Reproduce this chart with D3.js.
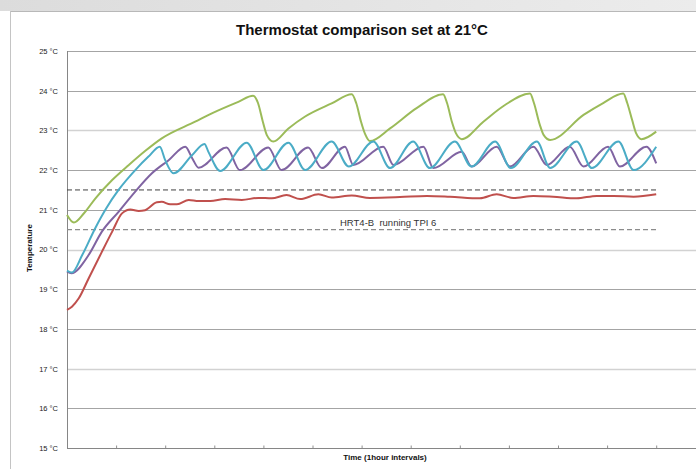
<!DOCTYPE html>
<html>
<head>
<meta charset="utf-8">
<script src="https://cdn.jsdelivr.net/npm/d3@7"></script>
<style>
  body { margin: 0; background: #fff; }
  svg { display: block; font-family: "Liberation Sans", Arial, sans-serif; }
</style>
</head>
<body>
<svg id="chart" width="696" height="469"></svg>
<script>
// readings: [hour, °C]
const redSeries = [
  [0, 18.48], [0.10, 18.56], [0.24, 18.77], [0.44, 19.27], [0.71, 19.94], [0.92, 20.45],
  [1.12, 20.91], [1.29, 21.01], [1.46, 20.97], [1.59, 20.99], [1.83, 21.19], [1.93, 21.20],
  [2.10, 21.14], [2.24, 21.14], [2.48, 21.25], [2.68, 21.22], [2.92, 21.22], [3.22, 21.27],
  [3.56, 21.25], [3.90, 21.30], [4.17, 21.29], [4.47, 21.37], [4.75, 21.27], [5.12, 21.39],
  [5.39, 21.31], [5.80, 21.36], [6.17, 21.30], [6.78, 21.32], [7.33, 21.35], [7.80, 21.33],
  [8.41, 21.29], [8.75, 21.39], [9.09, 21.30], [9.50, 21.35], [9.90, 21.33], [10.38, 21.29],
  [10.79, 21.35], [11.13, 21.35], [11.54, 21.33], [12, 21.39]
];
const greenSeries = [
  [0, 20.87], [0.14, 20.68], [0.35, 20.92], [0.58, 21.29], [0.92, 21.75], [1.26, 22.13],
  [1.59, 22.48], [1.93, 22.80], [2.61, 23.22], [2.95, 23.43], [3.49, 23.72], [3.79, 23.87],
  [3.89, 23.69], [3.99, 23.21], [4.07, 22.88], [4.20, 22.72], [4.51, 23.05], [4.85, 23.35],
  [5.39, 23.68], [5.80, 23.91], [5.89, 23.69], [5.99, 23.21], [6.07, 22.91], [6.17, 22.73],
  [6.58, 23.05], [7.12, 23.56], [7.66, 23.91], [7.74, 23.69], [7.84, 23.21], [7.92, 22.93],
  [8.04, 22.78], [8.48, 23.22], [8.92, 23.64], [9.43, 23.93], [9.51, 23.69], [9.63, 23.14],
  [9.71, 22.88], [9.84, 22.76], [10.52, 23.39], [10.92, 23.69], [11.33, 23.93], [11.41, 23.69],
  [11.51, 23.26], [11.59, 22.93], [11.70, 22.78], [12, 22.97]
];
const purpleSeries = [
  [0, 19.44], [0.09, 19.40], [0.44, 19.86], [0.71, 20.45], [1.05, 20.95], [1.39, 21.46],
  [1.73, 21.92], [2.07, 22.25], [2.41, 22.59], [2.55, 22.30], [2.68, 22.06], [3.25, 22.57],
  [3.52, 22.00], [4.10, 22.57], [4.37, 22.00], [4.91, 22.57], [5.19, 22.05], [5.66, 22.59],
  [5.83, 22.13], [6.44, 22.59], [6.65, 22.13], [7.26, 22.59], [7.46, 22.05], [8.04, 22.46],
  [8.24, 22.09], [8.75, 22.59], [9.02, 22.09], [9.50, 22.59], [9.77, 22.13], [10.24, 22.59],
  [10.52, 22.09], [11.02, 22.59], [11.26, 22.09], [11.80, 22.59], [12, 22.17]
];
const tealSeries = [
  [0, 19.47], [0.10, 19.42], [0.31, 19.86], [0.58, 20.55], [0.80, 21.04], [1.05, 21.50],
  [1.39, 22.00], [1.66, 22.34], [1.89, 22.59], [2.00, 22.25], [2.17, 21.92], [2.55, 22.38],
  [2.80, 22.66], [2.88, 22.46], [3.12, 21.98], [3.66, 22.69], [4.00, 22.00], [4.51, 22.69],
  [4.85, 22.00], [5.39, 22.72], [5.74, 22.09], [6.24, 22.72], [6.58, 22.05], [7.05, 22.72],
  [7.39, 22.05], [7.90, 22.72], [8.24, 22.09], [8.72, 22.72], [9.04, 22.05], [9.57, 22.72],
  [9.84, 22.05], [10.38, 22.72], [10.69, 22.05], [11.23, 22.72], [11.54, 22.00], [12, 22.59]
];
const upperBand = [[0, 21.5], [12, 21.5]];
const lowerBand = [[0, 20.5], [12, 20.5]];

const yTicks = [15, 16, 17, 18, 19, 20, 21, 22, 23, 24, 25];
const xTicks = [1, 2, 3, 4, 5, 6, 7, 8, 9, 10, 11, 12];
const chartTitle = 'Thermostat comparison set at 21°C';
const bandNote = 'HRT4-B  running TPI 6';

const svg = d3.select('#chart');

// window chrome around the chart
const grad = svg.append('defs').append('linearGradient').attr('id', 'topbar');
grad.append('stop').attr('offset', '0%').attr('stop-color', '#dcdcdc');
grad.append('stop').attr('offset', '100%').attr('stop-color', '#ececec');
svg.append('rect').attr('x', 0).attr('y', 0).attr('width', 696).attr('height', 11).attr('fill', 'url(#topbar)');
svg.append('line').attr('x1', 10).attr('x2', 696).attr('y1', 11.5).attr('y2', 11.5).attr('stroke', '#b8b8b8');
svg.append('line').attr('x1', 10.5).attr('x2', 10.5).attr('y1', 11).attr('y2', 469).attr('stroke', '#c4c4c4');

const x = d3.scaleLinear().domain([0, 12]).range([67, 656.2]);
const y = d3.scaleLinear().domain([15, 25]).range([448, 51]);

// gridlines (some come out lighter in the screenshot)
const lightGrid = [17, 20, 23];
svg.append('g').selectAll('line')
  .data(yTicks.filter((v) => v > 15))
  .enter().append('line')
  .attr('x1', 67).attr('x2', 696)
  .attr('y1', (d) => Math.round(y(d)) + 0.5).attr('y2', (d) => Math.round(y(d)) + 0.5)
  .attr('stroke', (d) => lightGrid.includes(d) ? '#d2d2d2' : '#a4a4a4')
  .attr('stroke-width', (d) => lightGrid.includes(d) ? 1.6 : 1);

// axes
const yAxis = svg.append('g').attr('transform', 'translate(67,0)')
  .call(d3.axisLeft(y).tickValues(yTicks).tickSize(0).tickPadding(9).tickFormat((d) => `${d} °C`));
yAxis.select('.domain').remove();
yAxis.selectAll('text').attr('font-size', 7.5).attr('fill', '#222');

const xAxis = svg.append('g').attr('transform', 'translate(0,448.5)')
  .call(d3.axisBottom(x).tickValues(xTicks).tickSize(-3).tickSizeOuter(0).tickFormat(''));
xAxis.select('.domain').remove();
xAxis.selectAll('.tick line').attr('stroke', '#909090');

svg.append('line').attr('x1', 67).attr('x2', 696).attr('y1', 448.5).attr('y2', 448.5).attr('stroke', '#868686');
svg.append('line').attr('x1', 67.5).attr('x2', 67.5).attr('y1', 51).attr('y2', 449).attr('stroke', '#868686');

// series
const line = d3.line().x((d) => x(d[0])).y((d) => y(d[1])).curve(d3.curveMonotoneX);
const plot = svg.append('g');

plot.append('path').datum(upperBand).attr('d', line).attr('fill', 'none')
  .attr('stroke', '#404040').attr('stroke-width', 1).attr('stroke-dasharray', '5,3');
plot.append('path').datum(lowerBand).attr('d', line).attr('fill', 'none')
  .attr('stroke', '#8c8c8c').attr('stroke-width', 1.2).attr('stroke-dasharray', '5,3');

const series = [
  { data: redSeries, color: '#c0504d' },
  { data: greenSeries, color: '#9bbb59' },
  { data: purpleSeries, color: '#8064a2' },
  { data: tealSeries, color: '#4bacc6' },
];
for (const s of series) {
  plot.append('path').datum(s.data).attr('d', line).attr('fill', 'none')
    .attr('stroke', s.color).attr('stroke-width', 2).attr('stroke-linejoin', 'round');
}

// texts
svg.append('text').attr('x', 362).attr('y', 35).attr('text-anchor', 'middle')
  .attr('font-size', 15).attr('font-weight', 'bold').attr('fill', '#111').text(chartTitle);
svg.append('text').attr('x', 340).attr('y', 225.5).style('white-space', 'pre')
  .attr('font-size', 9.5).attr('fill', '#333').text(bandNote);
svg.append('text').attr('transform', 'translate(32,248) rotate(-90)').attr('text-anchor', 'middle')
  .attr('font-size', 8).attr('font-weight', 'bold').attr('fill', '#111').text('Temperature');
svg.append('text').attr('x', 385).attr('y', 460).attr('text-anchor', 'middle')
  .attr('font-size', 8).attr('font-weight', 'bold').attr('fill', '#111').text('Time (1hour intervals)');
</script>
</body>
</html>
